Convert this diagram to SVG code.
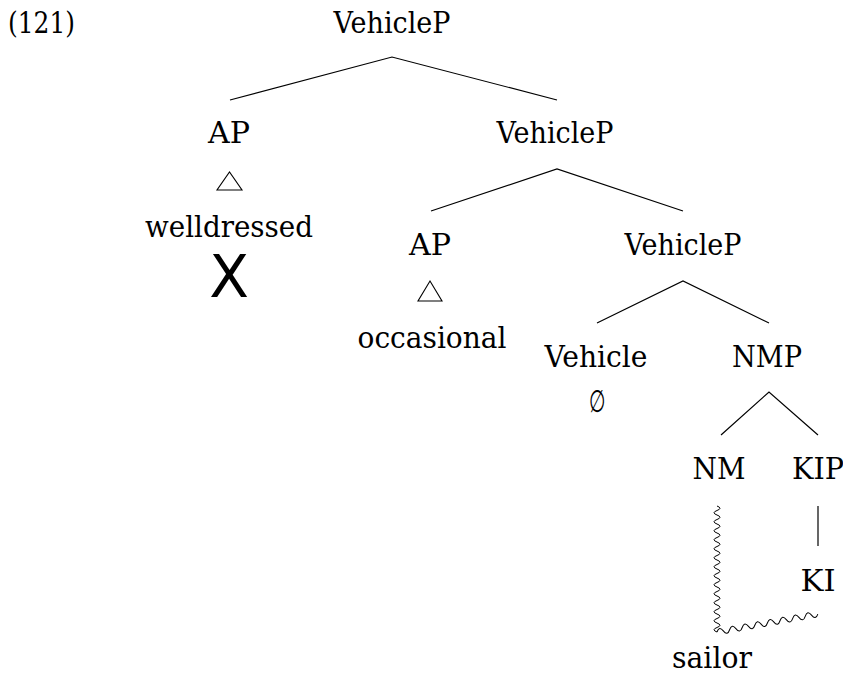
<svg xmlns="http://www.w3.org/2000/svg" width="843" height="679" viewBox="0 0 843 679">
  <style>
    text { font-family: 'DejaVu Serif', 'Liberation Serif', serif; font-size: 29px; fill: #000; text-anchor: middle; }
    .edge { stroke: #000; stroke-width: 1.2; fill: none; }
    .wave { stroke: #000; stroke-width: 1; fill: none; stroke-linejoin: round; }
    .tri { stroke: #000; stroke-width: 1.1; fill: #fff; stroke-linejoin: miter; }
    text.big { font-family: 'DejaVu Sans', 'Liberation Sans', sans-serif; font-size: 58px; }
    text.sym { font-size: 22px; }
  </style>

  <!-- example number -->
  <text x="8" y="33" style="text-anchor:start" textLength="67" lengthAdjust="spacingAndGlyphs">(121)</text>

  <!-- tree branches -->
  <g id="connectors">
    <path class="edge" d="M230,100 L392,57 L557,100"/>
    <path class="edge" d="M431,211 L557,169 L683,211"/>
    <path class="edge" d="M597,323 L683,281 L769,323"/>
    <path class="edge" d="M721,435 L769,392 L818,435"/>
    <path class="edge" d="M818,506 L818,546"/>
    <!-- squiggly movement path from NM down and across to KI -->
    <path class="wave" d="M717,506
      q 6,2.25 0,4.5 q -6,2.25 0,4.5 q 6,2.25 0,4.5 q -6,2.25 0,4.5
      q 6,2.25 0,4.5 q -6,2.25 0,4.5 q 6,2.25 0,4.5 q -6,2.25 0,4.5
      q 6,2.25 0,4.5 q -6,2.25 0,4.5 q 6,2.25 0,4.5 q -6,2.25 0,4.5
      q 6,2.25 0,4.5 q -6,2.25 0,4.5 q 6,2.25 0,4.5 q -6,2.25 0,4.5
      q 6,2.25 0,4.5 q -6,2.25 0,4.5 q 6,2.25 0,4.5 q -6,2.25 0,4.5
      q 6,2.25 0,4.5 q -6,2.25 0,4.5 q 6,2.25 0,4.5 q -6,2.25 0,4.5
      q 6,2.25 0,4.5 q -6,2.25 0,4.5 q 6,2.25 0,4.5 q -6,2.25 0,4.5"/>
    <path class="wave" transform="translate(717,632) rotate(-10.1)" d="M0,0
      q 3.2,-6 6.4,0 q 3.2,6 6.4,0 q 3.2,-6 6.4,0 q 3.2,6 6.4,0
      q 3.2,-6 6.4,0 q 3.2,6 6.4,0 q 3.2,-6 6.4,0 q 3.2,6 6.4,0
      q 3.2,-6 6.4,0 q 3.2,6 6.4,0 q 3.2,-6 6.4,0 q 3.2,6 6.4,0
      q 3.2,-6 6.4,0 q 3.2,6 6.4,0 q 3.2,-6 6.4,0 q 3.2,6 6.4,0"/>
  </g>

  <g id="vehicleP-root"><text x="392" y="33" textLength="117" lengthAdjust="spacingAndGlyphs">VehicleP</text></g>

  <g id="ap-welldressed">
    <text x="229" y="143" textLength="42" lengthAdjust="spacingAndGlyphs">AP</text>
    <polygon class="tri" points="217,190 242,190 229.5,172"/>
    <text x="229" y="237" textLength="168" lengthAdjust="spacingAndGlyphs">welldressed</text>
    <text class="big" x="229" y="297">X</text>
  </g>

  <g id="vehicleP-2"><text x="555" y="143" textLength="117" lengthAdjust="spacingAndGlyphs">VehicleP</text></g>

  <g id="ap-occasional">
    <text x="430" y="255" textLength="42" lengthAdjust="spacingAndGlyphs">AP</text>
    <polygon class="tri" points="418,301 442,301 430,281"/>
    <text x="432" y="348" textLength="149" lengthAdjust="spacingAndGlyphs">occasional</text>
  </g>

  <g id="vehicleP-3"><text x="683" y="255" textLength="117" lengthAdjust="spacingAndGlyphs">VehicleP</text></g>

  <g id="vehicle">
    <text x="596" y="367" textLength="103" lengthAdjust="spacingAndGlyphs">Vehicle</text>
    <text class="sym" transform="translate(597,412) scale(0.85,1.4)" x="0" y="0">∅</text>
  </g>

  <g id="nmp"><text x="767" y="367" textLength="70" lengthAdjust="spacingAndGlyphs">NMP</text></g>
  <g id="nm"><text x="719" y="479" textLength="53" lengthAdjust="spacingAndGlyphs">NM</text></g>
  <g id="kip"><text x="818" y="479" textLength="52" lengthAdjust="spacingAndGlyphs">KIP</text></g>
  <g id="ki"><text x="818" y="591" textLength="35" lengthAdjust="spacingAndGlyphs">KI</text></g>
  <g id="sailor"><text x="712" y="668" textLength="80" lengthAdjust="spacingAndGlyphs">sailor</text></g>
</svg>
